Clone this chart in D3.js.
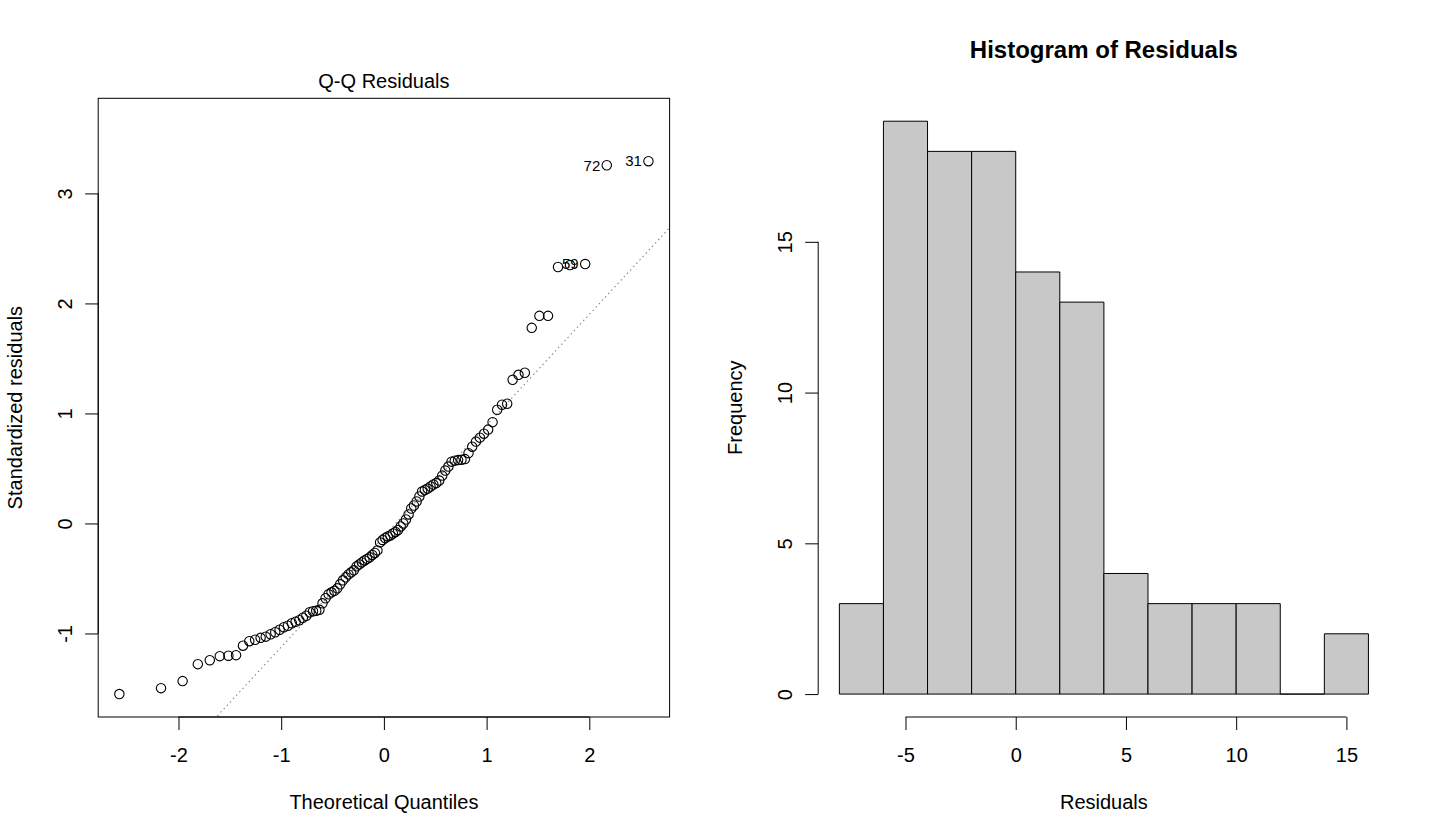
<!DOCTYPE html>
<html>
<head>
<meta charset="utf-8">
<script src="https://cdn.jsdelivr.net/npm/d3@7"></script>
<style>
  html, body { margin: 0; padding: 0; background: #ffffff; }
  svg { display: block; font-family: "Liberation Sans", Arial, Helvetica, sans-serif; }
</style>
</head>
<body>
<svg id="chart" width="1440" height="840"></svg>
<script>
// ---------------- DATA ----------------
// Q-Q plot: theoretical normal quantiles (n = 100) and sorted standardized residuals
const theoreticalQuantiles = [
  -2.5758, -2.1701, -1.9600, -1.8119, -1.6954, -1.5982, -1.5141, -1.4395, -1.3722, -1.3106,
  -1.2536, -1.2004, -1.1503, -1.1031, -1.0581, -1.0152, -0.9741, -0.9346, -0.8965, -0.8596,
  -0.8239, -0.7892, -0.7554, -0.7225, -0.6903, -0.6588, -0.6280, -0.5978, -0.5681, -0.5388,
  -0.5101, -0.4817, -0.4538, -0.4261, -0.3989, -0.3719, -0.3451, -0.3186, -0.2924, -0.2663,
  -0.2404, -0.2147, -0.1891, -0.1637, -0.1383, -0.1130, -0.0878, -0.0627, -0.0376, -0.0125,
   0.0125,  0.0376,  0.0627,  0.0878,  0.1130,  0.1383,  0.1637,  0.1891,  0.2147,  0.2404,
   0.2663,  0.2924,  0.3186,  0.3451,  0.3719,  0.3989,  0.4261,  0.4538,  0.4817,  0.5101,
   0.5388,  0.5681,  0.5978,  0.6280,  0.6588,  0.6903,  0.7225,  0.7554,  0.7892,  0.8239,
   0.8596,  0.8965,  0.9346,  0.9741,  1.0152,  1.0581,  1.1031,  1.1503,  1.2004,  1.2536,
   1.3106,  1.3722,  1.4395,  1.5141,  1.5982,  1.6954,  1.8119,  1.9600,  2.1701,  2.5758
];
const standardizedResiduals = [
  -1.551, -1.497, -1.433, -1.279, -1.243, -1.206, -1.202, -1.197, -1.111, -1.070,
  -1.057, -1.040, -1.029, -1.007, -0.989, -0.966, -0.943, -0.930, -0.907, -0.893,
  -0.880, -0.857, -0.839, -0.807, -0.798, -0.794, -0.785, -0.726, -0.680, -0.644,
  -0.626, -0.612, -0.590, -0.553, -0.517, -0.490, -0.463, -0.444, -0.426, -0.390,
  -0.372, -0.354, -0.336, -0.322, -0.308, -0.286, -0.268, -0.245, -0.172, -0.150,
  -0.132, -0.118, -0.109, -0.091, -0.077, -0.059, -0.027,  0.000,  0.036,  0.082,
   0.136,  0.163,  0.200,  0.245,  0.290,  0.304,  0.317,  0.336,  0.354,  0.367,
   0.390,  0.435,  0.481,  0.517,  0.562,  0.571,  0.576,  0.578,  0.585,  0.639,
   0.698,  0.744,  0.780,  0.816,  0.853,  0.921,  1.034,  1.079,  1.088,  1.306,
   1.351,  1.370,  1.778,  1.887,  1.887,  2.331,  2.349,  2.358,  3.256,  3.293
];
// identified points (rank in sorted order, 1-based) and their observation labels
const idRanks  = [100, 99, 98];
const idLabels = ["31", "72", "59"];
const qqXTicks = [-2, -1, 0, 1, 2];
const qqYTicks = [-1, 0, 1, 2, 3];

// Histogram of residuals
const binEdges = [-8, -6, -4, -2, 0, 2, 4, 6, 8, 10, 12, 14, 16];
const binCounts = [3, 19, 18, 18, 14, 13, 4, 3, 3, 3, 0, 2];
const histXTicks = [-5, 0, 5, 10, 15];
const histYTicks = [0, 5, 10, 15];

// ---------------- LAYOUT ----------------
const svg = d3.select("#chart");
svg.append("rect").attr("width", 1440).attr("height", 840).attr("fill", "#ffffff");

const plotTop = 98.3, plotBottom = 717;
const qqPanel = { left: 98.2, right: 669.6 };
const histPanel = { left: 818.2, right: 1389.6 };
const FONT = 20;

function rExtend(lo, hi) { const r = hi - lo; return [lo - 0.04 * r, hi + 0.04 * r]; }

function bottomAxis(g, scale, ticks) {
  const ax = g.append("g").attr("transform", `translate(0,${plotBottom})`)
    .call(d3.axisBottom(scale).tickValues(ticks).tickSize(13).tickSizeOuter(0).tickFormat(d3.format("d")));
  ax.select(".domain").remove();
  ax.selectAll(".tick line").attr("stroke", "#000").attr("stroke-width", 1);
  ax.selectAll(".tick text").attr("y", 38).attr("dy", "0.35em")
    .attr("font-size", FONT).attr("fill", "#000").attr("font-family", null)
    .text(d => d3.format("d")(d).replace("−", "-"));
  ax.append("line").attr("x1", scale(ticks[0])).attr("x2", scale(ticks[ticks.length - 1]))
    .attr("y1", 0).attr("y2", 0).attr("stroke", "#000").attr("stroke-width", 1);
}
function leftAxis(g, scale, ticks, x0) {
  const ax = g.append("g").attr("transform", `translate(${x0},0)`)
    .call(d3.axisLeft(scale).tickValues(ticks).tickSize(13).tickSizeOuter(0).tickFormat(d3.format("d")));
  ax.select(".domain").remove();
  ax.selectAll(".tick line").attr("stroke", "#000").attr("stroke-width", 1);
  ax.selectAll(".tick text").attr("x", 0).attr("y", 0).attr("dy", "0.35em")
    .attr("transform", "translate(-33,0) rotate(-90)")
    .attr("text-anchor", "middle").attr("font-size", FONT).attr("fill", "#000").attr("font-family", null)
    .text(d => d3.format("d")(d).replace("−", "-"));
  ax.append("line").attr("y1", scale(ticks[0])).attr("y2", scale(ticks[ticks.length - 1]))
    .attr("x1", 0).attr("x2", 0).attr("stroke", "#000").attr("stroke-width", 1);
}

// ---------------- Q-Q PLOT ----------------
{
  const g = svg.append("g");
  const xs = d3.extent(theoreticalQuantiles);
  const ys = d3.extent(standardizedResiduals);
  ys[1] = ys[1] + 0.075 * (ys[1] - ys[0]);   // room for id labels
  const x = d3.scaleLinear().domain(rExtend(xs[0], xs[1])).range([qqPanel.left, qqPanel.right]);
  const y = d3.scaleLinear().domain(rExtend(ys[0], ys[1])).range([plotBottom, plotTop]);

  g.append("clipPath").attr("id", "qqclip").append("rect")
    .attr("x", qqPanel.left).attr("y", plotTop)
    .attr("width", qqPanel.right - qqPanel.left).attr("height", plotBottom - plotTop);

  // qq line through the quartiles
  const sorted = standardizedResiduals.slice().sort((a, b) => a - b);
  const q1 = d3.quantile(sorted, 0.25), q3 = d3.quantile(sorted, 0.75);
  const z = 0.6744898;
  const slope = (q3 - q1) / (2 * z);
  const intercept = q1 + slope * z;
  const [dx0, dx1] = x.domain();
  g.append("line").attr("clip-path", "url(#qqclip)")
    .attr("x1", x(dx0 - 1)).attr("y1", y(intercept + slope * (dx0 - 1)))
    .attr("x2", x(dx1 + 1)).attr("y2", y(intercept + slope * (dx1 + 1)))
    .attr("stroke", "#7f7f7f").attr("stroke-width", 1.1).attr("stroke-dasharray", "1.4,3.2");

  g.selectAll("circle.pt").data(theoreticalQuantiles.map((q, i) => [q, standardizedResiduals[i]]))
    .join("circle").attr("class", "pt")
    .attr("cx", d => x(d[0])).attr("cy", d => y(d[1])).attr("r", 4.7)
    .attr("fill", "none").attr("stroke", "#000").attr("stroke-width", 1.1);

  g.selectAll("text.idlab").data(idRanks.map((r, i) => ({ r, lab: idLabels[i] })))
    .join("text").attr("class", "idlab")
    .attr("x", d => x(theoreticalQuantiles[d.r - 1]) - 6.5)
    .attr("y", d => y(standardizedResiduals[d.r - 1]))
    .attr("dy", "0.35em").attr("text-anchor", "end").attr("font-size", 15).attr("fill", "#000")
    .text(d => d.lab);

  g.append("rect").attr("x", qqPanel.left).attr("y", plotTop)
    .attr("width", qqPanel.right - qqPanel.left).attr("height", plotBottom - plotTop)
    .attr("fill", "none").attr("stroke", "#000").attr("stroke-width", 1);

  bottomAxis(g, x, qqXTicks);
  leftAxis(g, y, qqYTicks, qqPanel.left);

  const cx = (qqPanel.left + qqPanel.right) / 2;
  g.append("text").attr("x", cx).attr("y", 81).attr("dy", "0.35em").attr("text-anchor", "middle")
    .attr("font-size", FONT).text("Q-Q Residuals");
  g.append("text").attr("x", cx).attr("y", 802).attr("dy", "0.35em").attr("text-anchor", "middle")
    .attr("font-size", FONT).text("Theoretical Quantiles");
  g.append("text").attr("transform", `translate(15,${(plotTop + plotBottom) / 2}) rotate(-90)`)
    .attr("dy", "0.35em").attr("text-anchor", "middle").attr("font-size", FONT).text("Standardized residuals");
}

// ---------------- HISTOGRAM ----------------
{
  const g = svg.append("g");
  const x = d3.scaleLinear().domain(rExtend(binEdges[0], binEdges[binEdges.length - 1]))
    .range([histPanel.left, histPanel.right]);
  const y = d3.scaleLinear().domain(rExtend(0, d3.max(binCounts))).range([plotBottom, plotTop]);

  const bins = binCounts.map((c, i) => ({ x0: binEdges[i], x1: binEdges[i + 1], c }));
  g.selectAll("path.bar").data(bins).join("path").attr("class", "bar")
    .attr("d", d => `M${x(d.x0)},${y(0)}H${x(d.x1)}V${y(d.c)}H${x(d.x0)}Z`)
    .attr("fill", "#c8c8c8").attr("stroke", "#000").attr("stroke-width", 1);

  bottomAxis(g, x, histXTicks);
  leftAxis(g, y, histYTicks, histPanel.left);

  const cx = (histPanel.left + histPanel.right) / 2;
  g.append("text").attr("x", cx).attr("y", 50).attr("dy", "0.35em").attr("text-anchor", "middle")
    .attr("font-size", 24).attr("font-weight", "bold").text("Histogram of Residuals");
  g.append("text").attr("x", cx).attr("y", 802).attr("dy", "0.35em").attr("text-anchor", "middle")
    .attr("font-size", FONT).text("Residuals");
  g.append("text").attr("transform", `translate(735,${(plotTop + plotBottom) / 2}) rotate(-90)`)
    .attr("dy", "0.35em").attr("text-anchor", "middle").attr("font-size", FONT).text("Frequency");
}
</script>
</body>
</html>
